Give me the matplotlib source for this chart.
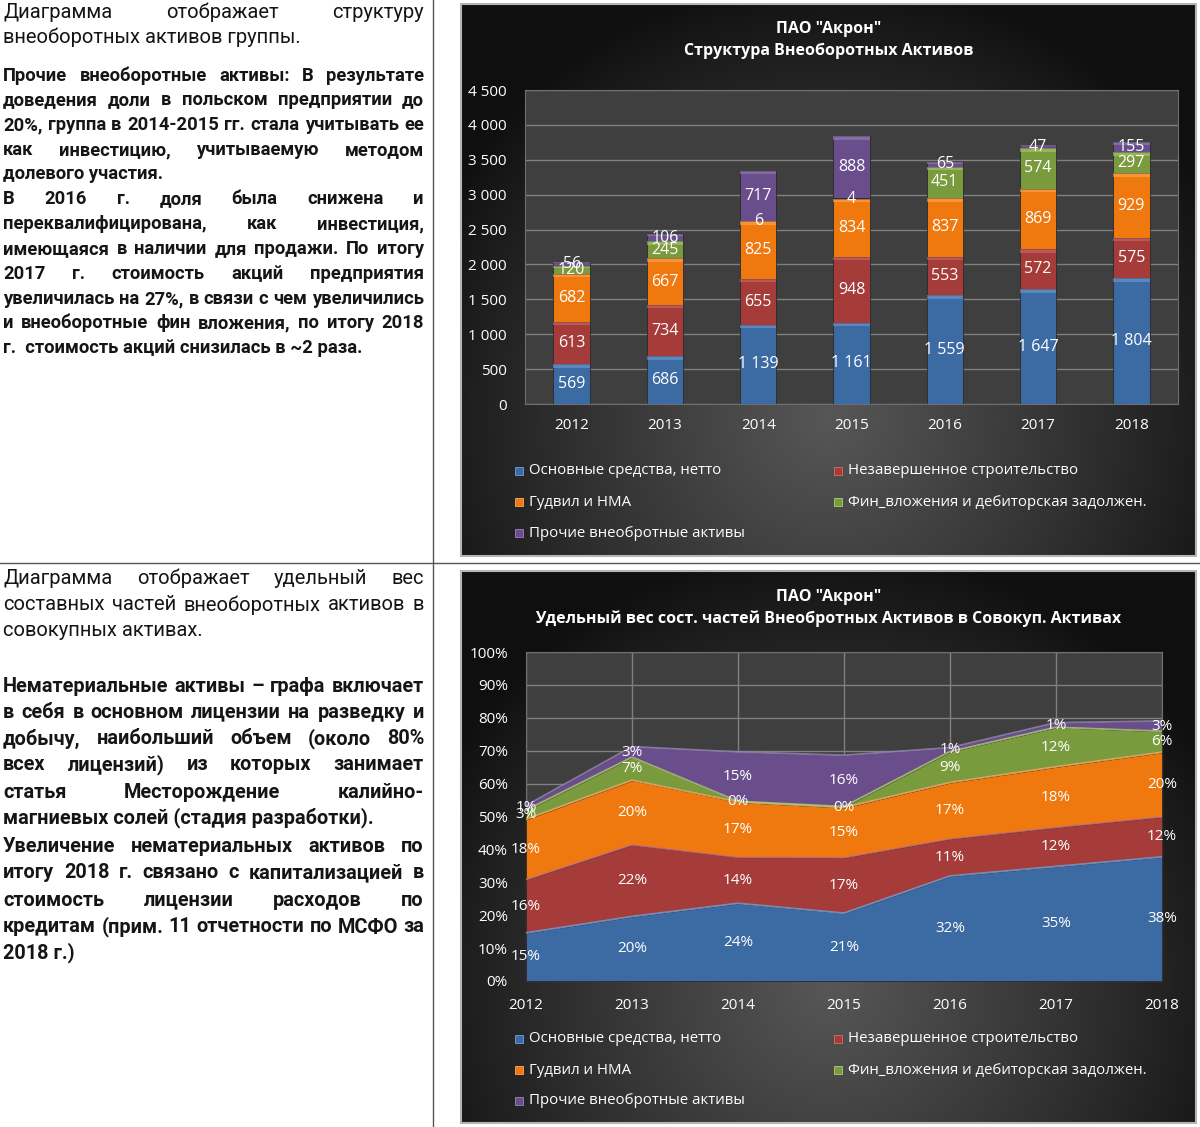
import matplotlib
matplotlib.use('Agg')
import matplotlib.pyplot as plt
import numpy as np
from matplotlib.patches import Rectangle
from matplotlib.lines import Line2D

# данные
years = ['2012', '2013', '2014', '2015', '2016', '2017', '2018']

# структура внеоборотных активов
fixed_assets = [569, 686, 1139, 1161, 1559, 1647, 1804]
construction = [613, 734, 655, 948, 553, 572, 575]
goodwill = [682, 667, 825, 834, 837, 869, 929]
fin_invest = [120, 245, 6, 4, 451, 574, 297]
other_assets = [56, 106, 717, 888, 65, 47, 155]

# удельный вес в совокупных активах, %
fixed_share = [14.6, 19.6, 23.6, 20.6, 31.9, 34.8, 37.7]
construction_share = [16.2, 21.8, 14.0, 16.9, 11.3, 11.9, 12.2]
goodwill_share = [18.3, 19.6, 16.8, 15.2, 17.1, 18.4, 19.6]
fin_share = [2.8, 7.0, 0.2, 0.3, 9.4, 12.0, 6.4]
other_share = [1.4, 3.2, 15.0, 15.6, 1.2, 1.4, 3.1]

names = ['Основные средства, нетто', 'Незавершенное строительство',
         'Гудвил и НМА', 'Фин_вложения и дебиторская задолжен.',
         'Прочие внеобротные активы']
colors = ['#3c6aa3', '#a53c3a', '#f0790f', '#7a9a3e', '#6a4e8c']
light = ['#75a0d8', '#d46e6b', '#fbab5a', '#b0cc72', '#9a86ba']

chart_font = ['Open Sans', 'DejaVu Sans']
body_font = ['Roboto', 'DejaVu Sans']

W, H = 1200, 1127
fig = plt.figure(figsize=(W / 100, H / 100), dpi=100)
fig.patch.set_facecolor('white')


def px_axes(x0, y0, x1, y1):
    return fig.add_axes([x0 / W, 1 - y1 / H, (x1 - x0) / W, (y1 - y0) / H])


# линии таблицы
fig.add_artist(Line2D([433 / W, 433 / W], [0, 1], transform=fig.transFigure, color='#555555', lw=1))
fig.add_artist(Line2D([0, 1], [1 - 563 / H, 1 - 563 / H], transform=fig.transFigure, color='#555555', lw=1))


def panel(x0, y0, x1, y1):
    ax = px_axes(x0, y0, x1, y1)
    yy, xx = np.mgrid[0:1:220j, 0:1:300j]
    d = np.sqrt(((xx - 0.5) / 0.6) ** 2 + ((yy - 0.75) / 0.8) ** 2)
    v = 0.06 + 0.28 * np.clip(1 - d, 0, 1) ** 0.9
    ax.imshow(np.dstack([v, v, v]), extent=[0, 1, 0, 1], aspect='auto', origin='upper')
    ax.set_xlim(0, 1)
    ax.set_ylim(0, 1)
    ax.axis('off')
    ax.add_patch(Rectangle((0, 0), 1, 1, fill=False, ec='#b5b5b5', lw=1.5,
                           transform=ax.transAxes, clip_on=False))


def titles(lines, ys):
    for t, y in zip(lines, ys):
        fig.text(828.5 / W, 1 - y / H, t, ha='center', va='center', color='white',
                 fontsize=11.5, fontweight='bold', family=chart_font)


def legend(rows):
    pos = [(515, rows[0]), (834, rows[0]), (515, rows[1]), (834, rows[1]), (515, rows[2])]
    for k, (x, y) in enumerate(pos):
        fig.patches.append(Rectangle((x / W, 1 - (y + 4) / H), 8 / W, 8 / H, transform=fig.transFigure,
                                     fc=colors[k], ec=light[k], lw=0.6))
        fig.text((x + 14) / W, 1 - y / H, names[k], ha='left', va='center', color='white',
                 fontsize=10.8, family=chart_font)


def style_axes(ax):
    ax.set_facecolor('#3f3f3f')
    for s in ax.spines.values():
        s.set_color('#6e6e6e')
    ax.tick_params(length=0, colors='white', labelsize=11)
    for lab in ax.get_xticklabels() + ax.get_yticklabels():
        lab.set_family(chart_font)


# ---- диаграмма 1: столбцы
panel(461, 4, 1196, 556)
titles(['ПАО "Акрон"', 'Структура Внеоборотных Активов'], [29, 51])
ax1 = px_axes(525, 90, 1178, 404)
x = np.arange(len(years))
bottom = np.zeros(len(years))
series = [fixed_assets, construction, goodwill, fin_invest, other_assets]
for vals, c, lc in zip(series, colors, light):
    vals = np.array(vals, dtype=float)
    ax1.bar(x, vals, 0.39, bottom=bottom, color=c, edgecolor='#2a2a2a', lw=0.6, zorder=3)
    hl = np.minimum(vals * 0.3, 50)
    ax1.bar(x, hl, 0.39, bottom=bottom + vals - hl, color=lc, alpha=0.55, lw=0, zorder=4)
    for i, v in enumerate(vals):
        ax1.text(i, bottom[i] + v / 2, f'{int(v):,}'.replace(',', ' '), ha='center', va='center',
                 color='white', fontsize=11.5, family=chart_font, zorder=5)
    bottom += vals
ax1.set_xlim(-0.5, len(years) - 0.5)
ax1.set_ylim(0, 4500)
ax1.set_yticks(np.arange(0, 4501, 500))
ax1.set_yticklabels([f'{v:,}'.replace(',', ' ') for v in range(0, 4501, 500)])
ax1.set_xticks(x)
ax1.set_xticklabels(years)
ax1.grid(axis='y', color='#808080', lw=1, zorder=0)
ax1.set_axisbelow(True)
style_axes(ax1)
ax1.tick_params(axis='y', pad=13)
ax1.tick_params(axis='x', pad=10)
legend([471, 502, 533])

# ---- диаграмма 2: области
panel(461, 571, 1196, 1123)
titles(['ПАО "Акрон"', 'Удельный вес сост. частей Внеобротных Активов в Совокуп. Активах'], [597, 619])
ax2 = px_axes(526, 652, 1162, 981)
shares = [fixed_share, construction_share, goodwill_share, fin_share, other_share]
ax2.stackplot(x, *shares, colors=colors, edgecolor='#262626', lw=0.6, zorder=3)
cum = np.zeros(len(years))
for vals, lc in zip(shares, light):
    vals = np.array(vals)
    ax2.plot(x, cum + vals, color=lc, lw=1.4, alpha=0.8, zorder=4)
    for i, v in enumerate(vals):
        ax2.text(i, cum[i] + v / 2, f'{round(v):.0f}%', ha='center', va='center', color='white',
                 fontsize=11, family=chart_font, zorder=6, clip_on=False)
    cum += vals
ax2.set_xlim(0, len(years) - 1)
ax2.set_ylim(0, 100)
ax2.set_yticks(np.arange(0, 101, 10))
ax2.set_yticklabels([f'{v}%' for v in range(0, 101, 10)])
ax2.set_xticks(x)
ax2.set_xticklabels(years)
ax2.grid(color='#808080', lw=1, zorder=0)
ax2.set_axisbelow(True)
style_axes(ax2)
ax2.tick_params(axis='y', pad=13)
ax2.tick_params(axis='x', pad=12)
legend([1039, 1070, 1101])

# ---- текст в левой колонке
renderer = fig.canvas.get_renderer()
X0, X1 = 3, 424


def line_width(text, size, weight):
    t = fig.text(0, 0, text, fontsize=size, fontweight=weight, family=body_font)
    w = t.get_window_extent(renderer).width
    t.remove()
    return w


def fit_size(lines, weight, base):
    widest = max(line_width(s, base, weight) for s, j in lines if j)
    return base * min(1.0, (X1 - X0) / widest)


def text_block(lines, ys, weight, size):
    for (s, just), y in zip(lines, ys):
        kw = dict(fontsize=size, fontweight=weight, family=body_font, va='center', ha='left',
                  color='#151515')
        words = s.split()
        if not just or len(words) < 2:
            fig.text(X0 / W, 1 - y / H, s, **kw)
            continue
        arts = [fig.text(0, 1 - y / H, wd, **kw) for wd in words]
        widths = [a.get_window_extent(renderer).width for a in arts]
        gap = (X1 - X0 - sum(widths)) / (len(words) - 1)
        xp = X0
        for a, wd in zip(arts, widths):
            a.set_x(xp / W)
            xp += wd + gap


top_reg = [('Диаграмма отображает структуру', True),
           ('внеоборотных активов группы.', False)]
top_bold = [('Прочие внеоборотные активы: В результате', True),
            ('доведения доли в польском предприятии до', True),
            ('20%, группа в 2014-2015 гг. стала учитывать ее', True),
            ('как инвестицию, учитываемую методом', True),
            ('долевого участия.', False),
            ('В 2016 г. доля была снижена и', True),
            ('переквалифицирована, как инвестиция,', True),
            ('имеющаяся в наличии для продажи. По итогу', True),
            ('2017 г. стоимость акций предприятия', True),
            ('увеличилась на 27%, в связи с чем увеличились', True),
            ('и внеоборотные фин вложения, по итогу 2018', True),
            ('г.  стоимость акций снизилась в ~2 раза.', False)]
bot_reg = [('Диаграмма отображает удельный вес', True),
           ('составных частей внеоборотных активов в', True),
           ('совокупных активах.', False)]
bot_bold = [('Нематериальные активы – графа включает', True),
            ('в себя в основном лицензии на разведку и', True),
            ('добычу, наибольший объем (около 80%', True),
            ('всех лицензий) из которых занимает', True),
            ('статья Месторождение калийно-', True),
            ('магниевых солей (стадия разработки).', False),
            ('Увеличение нематериальных активов по', True),
            ('итогу 2018 г. связано с капитализацией в', True),
            ('стоимость лицензии расходов по', True),
            ('кредитам (прим. 11 отчетности по МСФО за', True),
            ('2018 г.)', False)]

reg_size = min(fit_size(top_reg, 'normal', 14.5), fit_size(bot_reg, 'normal', 14.5))

text_block(top_reg, [12, 37], 'normal', reg_size)
text_block(top_bold, [76, 100, 125, 150, 174, 199, 224, 249, 274, 299, 323, 348], 'bold',
           fit_size(top_bold, 'bold', 15.0))
text_block(bot_reg, [578, 605, 631], 'normal', reg_size)
text_block(bot_bold, [687, 712, 739, 765, 792, 818, 847, 873, 900, 927, 953], 'bold',
           fit_size(bot_bold, 'bold', 15.0))

fig.savefig('out.png', dpi=100, facecolor='white')
